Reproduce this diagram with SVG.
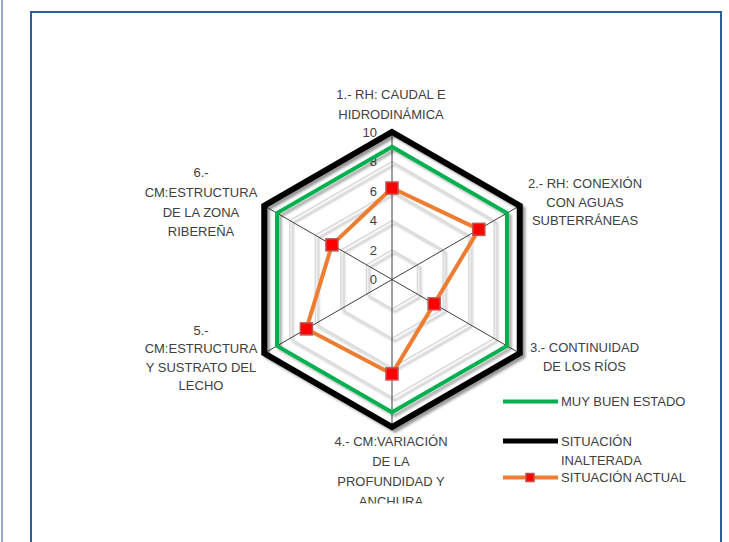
<svg xmlns="http://www.w3.org/2000/svg" width="729" height="542" viewBox="0 0 729 542">
<style>
.lbl{font-family:"Liberation Sans",Arial,sans-serif;font-size:13px;fill:#404040;text-anchor:middle}
.leg{font-family:"Liberation Sans",Arial,sans-serif;font-size:13px;fill:#404040}
.tick{font-family:"Liberation Sans",Arial,sans-serif;font-size:13px;fill:#404040;text-anchor:end}
.grid{fill:none;stroke:#d9d9d9;stroke-width:1.5}
.axis{stroke:#404040;stroke-width:1}
.green{fill:none;stroke:#00b050;stroke-width:4;stroke-linejoin:miter}
.black{fill:none;stroke:#000;stroke-width:6;stroke-linejoin:miter}
.orange{fill:none;stroke:#ed7d31;stroke-width:4;stroke-linejoin:round}
.mk{fill:#ff0000;stroke:#c0504d;stroke-width:1.5}
</style>
<defs>
<filter id="sh" x="-10%" y="-10%" width="130%" height="130%">
<feGaussianBlur in="SourceAlpha" stdDeviation="1.2"/>
<feOffset dx="2.5" dy="2.5" result="o"/>
<feFlood flood-color="#000" flood-opacity="0.3"/>
<feComposite in2="o" operator="in"/>
<feMerge><feMergeNode/><feMergeNode in="SourceGraphic"/></feMerge>
</filter>
<clipPath id="clip"><rect x="31" y="12" width="690" height="491.5"/></clipPath>
</defs>
<rect x="0" y="0" width="729" height="542" fill="#fff"/>
<line x1="2" y1="0" x2="2" y2="542" stroke="#4a6f9a" stroke-width="1.2"/>
<rect id="frame" x="31" y="12" width="690" height="600" fill="#fff" stroke="#2d5f97" stroke-width="2"/>

<g id="gridlines" filter="url(#sh)">
<polygon class="grid" points="392,250 417.55,264.75 417.55,294.25 392,309 366.45,294.25 366.45,264.75"/>
<polygon class="grid" points="392,220.5 443.09,250 443.09,309 392,338.5 340.91,309 340.91,250"/>
<polygon class="grid" points="392,191 468.64,235.25 468.64,323.75 392,368 315.36,323.75 315.36,235.25"/>
<polygon class="grid" points="392,161.5 494.19,220.5 494.19,338.5 392,397.5 289.81,338.5 289.81,220.5"/>
<polygon class="grid" points="392,132 519.74,205.75 519.74,353.25 392,427 264.26,353.25 264.26,205.75"/>
</g>
<g id="axes">
<line class="axis" x1="392" y1="279.5" x2="392" y2="132"/>
<line class="axis" x1="392" y1="279.5" x2="519.74" y2="205.75"/>
<line class="axis" x1="392" y1="279.5" x2="519.74" y2="353.25"/>
<line class="axis" x1="392" y1="279.5" x2="392" y2="427"/>
<line class="axis" x1="392" y1="279.5" x2="264.26" y2="353.25"/>
<line class="axis" x1="392" y1="279.5" x2="264.26" y2="205.75"/>
</g>
<g id="ticks">
<text class="tick" x="377" y="136.5">10</text>
<text class="tick" x="377" y="166">8</text>
<text class="tick" x="377" y="195.5">6</text>
<text class="tick" x="377" y="225">4</text>
<text class="tick" x="377" y="254.5">2</text>
<text class="tick" x="377" y="284">0</text>
</g>
<g id="series">
<polygon id="s-inalterada" class="black" filter="url(#sh)" points="392,132 519.74,205.75 519.74,353.25 392,427 264.26,353.25 264.26,205.75"/>
<polygon id="s-muybueno" class="green" filter="url(#sh)" points="392,146.75 506.96,213.125 506.96,345.875 392,412.25 277.04,345.875 277.04,213.125"/>
<g id="s-actual">
<polygon class="orange" points="392,188.05 478.86,229.35 434.15,303.84 392,373.9 306.41,328.91 331.96,244.84"/>
<rect class="mk" x="386" y="182.05" width="12" height="12"/>
<rect class="mk" x="472.86" y="223.35" width="12" height="12"/>
<rect class="mk" x="428.15" y="297.84" width="12" height="12"/>
<rect class="mk" x="386" y="367.9" width="12" height="12"/>
<rect class="mk" x="300.41" y="322.91" width="12" height="12"/>
<rect class="mk" x="325.96" y="238.84" width="12" height="12"/>
</g>
</g>
<g id="labels" clip-path="url(#clip)">
<g id="lab1"><text class="lbl" x="391" y="98.5">1.- RH: CAUDAL E</text><text class="lbl" x="391" y="118.5">HIDRODINÁMICA</text></g>
<g id="lab2"><text class="lbl" x="585" y="188">2.- RH: CONEXIÓN</text><text class="lbl" x="585" y="206.5">CON AGUAS</text><text class="lbl" x="585" y="225">SUBTERRÁNEAS</text></g>
<g id="lab3"><text class="lbl" x="584.5" y="352.3">3.- CONTINUIDAD</text><text class="lbl" x="584.5" y="370.7">DE LOS RÍOS</text></g>
<g id="lab4"><text class="lbl" x="391" y="446">4.- CM:VARIACIÓN</text><text class="lbl" x="391" y="466">DE LA</text><text class="lbl" x="391" y="486">PROFUNDIDAD Y</text><text class="lbl" x="391" y="506">ANCHURA</text></g>
<g id="lab5"><text class="lbl" x="201" y="334.6">5.-</text><text class="lbl" x="201" y="353">CM:ESTRUCTURA</text><text class="lbl" x="201" y="372">Y SUSTRATO DEL</text><text class="lbl" x="201" y="390">LECHO</text></g>
<g id="lab6"><text class="lbl" x="201" y="177.3">6.-</text><text class="lbl" x="201" y="197.3">CM:ESTRUCTURA</text><text class="lbl" x="201" y="217.3">DE LA ZONA</text><text class="lbl" x="201" y="235.7">RIBEREÑA</text></g>
</g>
<g id="legend">
<line x1="503" y1="401.5" x2="558" y2="401.5" stroke="#00b050" stroke-width="4"/>
<text class="leg" x="561" y="406">MUY BUEN ESTADO</text>
<line x1="503" y1="441" x2="558" y2="441" stroke="#000" stroke-width="5"/>
<text class="leg" x="561" y="445.5">SITUACIÓN</text>
<text class="leg" x="561" y="464.5">INALTERADA</text>
<line x1="503" y1="477.5" x2="558" y2="477.5" stroke="#ed7d31" stroke-width="4"/>
<rect class="mk" x="526" y="473.5" width="8" height="8" stroke-width="1"/>
<text class="leg" x="561" y="482">SITUACIÓN ACTUAL</text>
</g>
</svg>
